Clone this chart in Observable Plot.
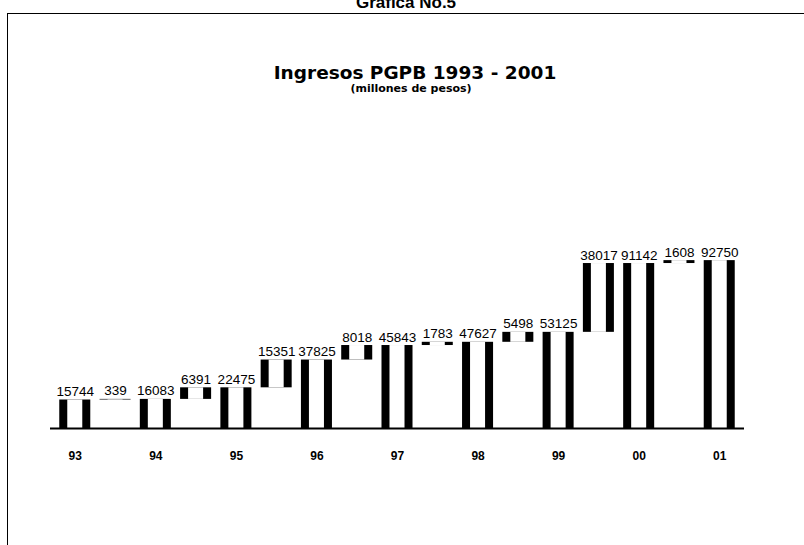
<!DOCTYPE html>
<html><head><meta charset="utf-8">
<script src="https://cdn.jsdelivr.net/npm/d3@7"></script>
<script src="https://cdn.jsdelivr.net/npm/@observablehq/plot@0.6"></script>
<style>
html,body{margin:0;padding:0;background:#fff;overflow:hidden;width:804px;height:545px;}
#wrap{position:relative;width:804px;height:545px;font-family:"Liberation Sans",Arial,sans-serif;color:#000;overflow:hidden}
#frame{position:absolute;left:7px;top:13px;width:900px;height:600px;border:1.5px solid #000;box-sizing:border-box}
#top{position:absolute;top:-6px;left:4px;width:804px;text-align:center;font-weight:bold;font-size:17px;line-height:17px}
#title{position:absolute;top:64px;left:13px;width:804px;text-align:center;font-family:"DejaVu Sans",sans-serif;font-weight:bold;font-size:18.5px;line-height:18px}
#sub{position:absolute;top:83px;left:9px;width:804px;text-align:center;font-family:"DejaVu Sans",sans-serif;font-weight:bold;font-size:11px;line-height:11px}
#chart{position:absolute;left:0;top:0}
</style>
</head><body>
<div id="wrap">
  <div id="frame"></div>
  <div id="top">Grafica No.5</div>
  <div id="title">Ingresos PGPB 1993 - 2001</div>
  <div id="sub">(millones de pesos)</div>
  <div id="chart"></div>
</div>
<script>
const years = ["93","94","95","96","97","98","99","00","01"];
const totals = [15744, 16083, 22475, 37825, 45843, 47627, 53125, 91142, 92750];
const increments = [339, 6391, 15351, 8018, 1783, 5498, 38017, 1608];

const rows = [];
years.forEach((yr, i) => {
  rows.push({key: yr, y1: 0, y2: totals[i], value: totals[i]});
  if (i < increments.length) {
    rows.push({key: "+" + yr, y1: totals[i], y2: totals[i] + increments[i], value: increments[i]});
  }
});

const chart = Plot.plot({
  width: 804,
  height: 545,
  marginLeft: 50,
  marginRight: 60,
  marginTop: 247,
  marginBottom: 117,
  style: {fontFamily: "'Liberation Sans', Arial, sans-serif", background: "transparent", color: "#000"},
  x: {type: "band", domain: rows.map(d => d.key), padding: 0.23, round: false, axis: null},
  y: {domain: [0, 100000], axis: null},
  marks: [
    Plot.barY(rows, {x: "key", y1: "y1", y2: "y2", fill: "#000"}),
    Plot.barY(rows, {x: "key", y1: "y1", y2: "y2", fill: "#fff", insetLeft: 8, insetRight: 8}),
    Plot.ruleY([0], {stroke: "#000", strokeWidth: 2}),
    Plot.text(rows, {x: "key", y: "y2", text: d => String(d.value), lineAnchor: "bottom", dy: -4, fontSize: 13.5, fill: "#000"}),
    Plot.axisX(years, {tickSize: 0, tickPadding: 23, fontSize: 12, fontWeight: "bold", fill: "#000", label: null})
  ]
});
document.getElementById("chart").appendChild(chart);
</script>
</body></html>
